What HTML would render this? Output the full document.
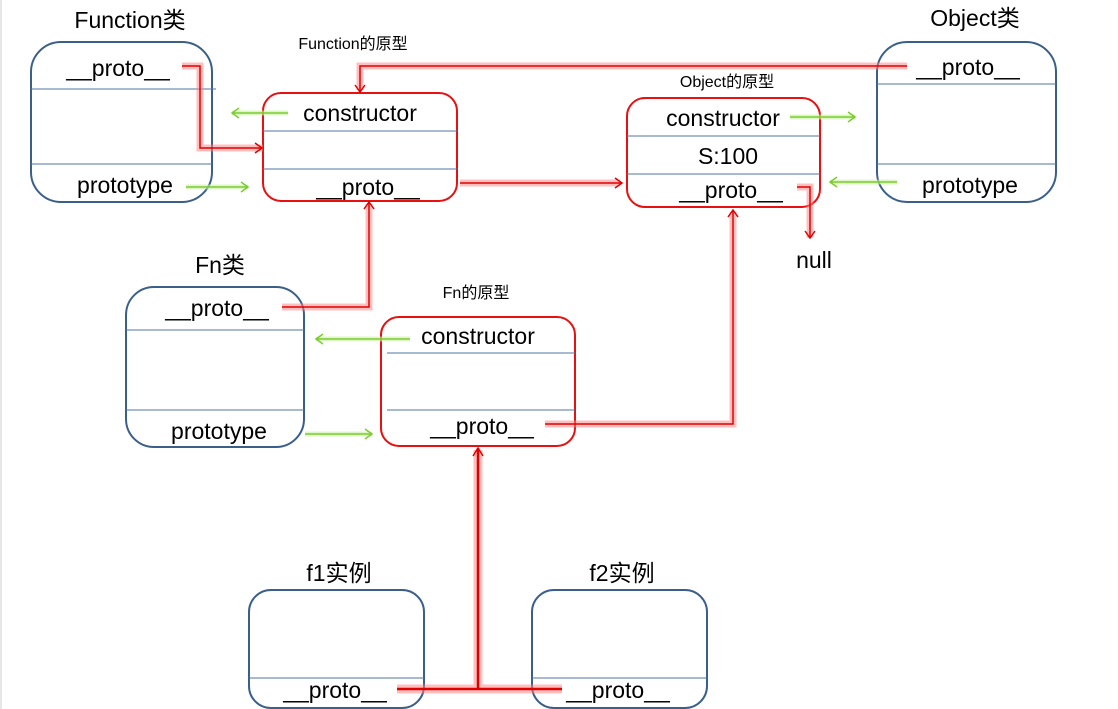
<!DOCTYPE html>
<html><head><meta charset="utf-8"><style>
html,body{margin:0;padding:0;background:#fff;}
svg{display:block;font-family:"Liberation Sans","Noto Sans CJK SC",sans-serif;}
.b{fill:#fff;stroke:#3a5f8a;stroke-width:2;}
.r{fill:#fff;stroke:#e81010;stroke-width:2;}
.d{stroke:#4f76a3;stroke-width:1;}
.t{font-size:23px;text-anchor:middle;fill:#000;}
.s{font-size:16px;text-anchor:middle;fill:#000;}
.rg{fill:none;stroke:#ff8080;stroke-width:7;stroke-opacity:.5;}
.rl{fill:none;stroke:#e00000;stroke-width:1.5;}
.gg{fill:none;stroke:#c8f0a0;stroke-width:5;stroke-opacity:.6;}
.gl{fill:none;stroke:#7ccc30;stroke-width:1.5;}
</style></head><body>
<svg width="1118" height="709" viewBox="0 0 1118 709">
<line x1="1" y1="0" x2="1" y2="709" stroke="#ccc"/>
<text class="t" x="130" y="28">Function类</text>
<rect class="b" x="31" y="42" width="181" height="160" rx="30"/>
<line class="d" x1="31" y1="89" x2="216" y2="89"/><line class="d" x1="31" y1="164" x2="212" y2="164"/>
<text class="t" x="118" y="76">__proto__</text>
<text class="t" x="125" y="193">prototype</text>
<text class="s" x="353" y="49">Function的原型</text>
<rect class="r" x="263" y="93" width="194" height="108" rx="18"/>
<line class="d" x1="263" y1="131" x2="457" y2="131"/><line class="d" x1="263" y1="169" x2="457" y2="169"/>
<text class="t" x="360" y="121">constructor</text>
<text class="t" x="368" y="195">__proto__</text>
<text class="s" x="727" y="87">Object的原型</text>
<rect class="r" x="627" y="98" width="193" height="109" rx="18"/>
<line class="d" x1="627" y1="136" x2="820" y2="136"/><line class="d" x1="627" y1="174" x2="820" y2="174"/>
<text class="t" x="723" y="126">constructor</text>
<text class="t" x="728" y="164">S:100</text>
<text class="t" x="731" y="198">__proto__</text>
<text class="t" x="975" y="26">Object类</text>
<rect class="b" x="877" y="42" width="179" height="160" rx="30"/>
<line class="d" x1="877" y1="84" x2="1056" y2="84"/><line class="d" x1="877" y1="164" x2="1056" y2="164"/>
<text class="t" x="968" y="75">__proto__</text>
<text class="t" x="970" y="193">prototype</text>
<text class="t" x="814" y="268">null</text>
<text class="t" x="220" y="273">Fn类</text>
<rect class="b" x="126" y="287" width="178" height="160" rx="28"/>
<line class="d" x1="126" y1="330" x2="304" y2="330"/><line class="d" x1="126" y1="410" x2="304" y2="410"/>
<text class="t" x="217" y="316">__proto__</text>
<text class="t" x="219" y="439">prototype</text>
<text class="s" x="476" y="298">Fn的原型</text>
<rect class="r" x="381" y="317" width="194" height="129" rx="18"/>
<line class="d" x1="387" y1="353" x2="575" y2="353"/><line class="d" x1="387" y1="410" x2="575" y2="410"/>
<text class="t" x="478" y="344">constructor</text>
<text class="t" x="482" y="434">__proto__</text>
<text class="t" x="339" y="581">f1实例</text>
<rect class="b" x="249" y="590" width="175" height="118" rx="22"/>
<line class="d" x1="249" y1="678" x2="424" y2="678"/>
<text class="t" x="335" y="698">__proto__</text>
<text class="t" x="622" y="581">f2实例</text>
<rect class="b" x="532" y="590" width="175" height="118" rx="22"/>
<line class="d" x1="532" y1="678" x2="707" y2="678"/>
<text class="t" x="618" y="698">__proto__</text>
<g>
<path class="rg" d="M182 66H200V148H263"/><path class="rl" d="M182 66H200V148H262"/><path class="rl" d="M255 143L262 148L255 153"/>
<path class="rg" d="M907 66H360V90"/><path class="rl" d="M907 66H360V92"/><path class="rl" d="M355 85L360 92L365 85"/>
<path class="rg" d="M460 183H620"/><path class="rl" d="M460 183H622"/><path class="rl" d="M615 178L622 183L615 188"/>
<path class="rg" d="M797 187H810V238"/><path class="rl" d="M797 187H810V238"/><path class="rl" d="M805 231L810 238L815 231"/>
<path class="rg" d="M282 307H369V204"/><path class="rl" d="M282 307H369V202"/><path class="rl" d="M364 209L369 202L374 209"/>
<path class="rg" d="M545 424H733V212"/><path class="rl" d="M545 424H733V210"/><path class="rl" d="M728 217L733 210L738 217"/>
<path class="rg" d="M397 689H562M478 689V450" style="stroke-width:9"/><path class="rl" d="M397 689H562M478 689V448" style="stroke-width:2.5"/><path class="rl" d="M473 456L478 448L483 456"/>
</g>
<g>
<path class="gg" d="M288 113H232"/><path class="gl" d="M288 113H232M239 108L232 113L239 118"/>
<path class="gg" d="M186 187H248"/><path class="gl" d="M186 187H248M241 182L248 187L241 192"/>
<path class="gg" d="M790 117H855"/><path class="gl" d="M790 117H855M848 112L855 117L848 122"/>
<path class="gg" d="M897 182H830"/><path class="gl" d="M897 182H830M837 177L830 182L837 187"/>
<path class="gg" d="M410 339H316"/><path class="gl" d="M410 339H316M323 334L316 339L323 344"/>
<path class="gg" d="M305 434H372"/><path class="gl" d="M305 434H372M365 429L372 434L365 439"/>
</g>
</svg>
</body></html>
